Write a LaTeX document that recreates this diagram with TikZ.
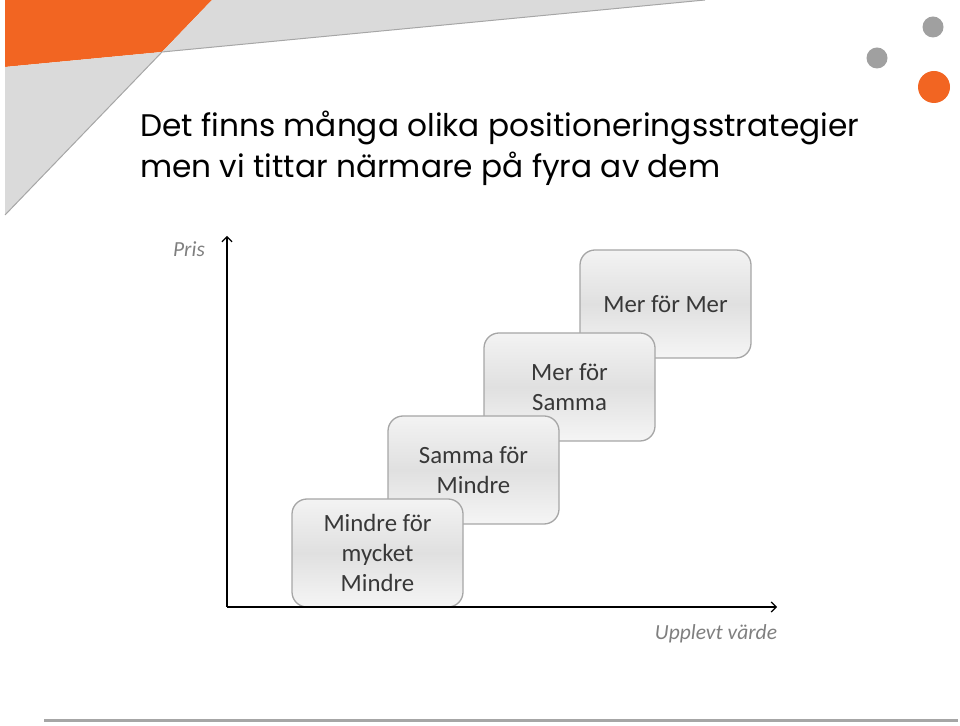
\documentclass[tikz,border=0pt]{standalone}
\usepackage{fontspec}
\setmainfont{Carlito}
\newfontfamily\titlefont{Poppins}
\usetikzlibrary{positioning, arrows.meta}
\definecolor{slideorange}{HTML}{F26522}
\definecolor{bandgray}{HTML}{DADADA}
\definecolor{linegray}{HTML}{A6A6A6}
\definecolor{dotgray}{HTML}{A0A0A0}
\definecolor{boxtop}{HTML}{F3F3F3}
\definecolor{boxmid}{HTML}{E0E0E0}
\definecolor{boxbottom}{HTML}{F5F5F5}
\definecolor{labelgray}{HTML}{7F7F7F}
\tikzset{
  stepbox/.style={draw=linegray, line width=1.3pt, rounded corners=15pt,
    top color=boxtop, bottom color=boxbottom, middle color=boxmid,
    minimum width=171pt, minimum height=108pt, align=center,
    text=black!78, font=\fontsize{24.8}{30}\selectfont},
  axislabel/.style={text=labelgray, font=\fontsize{21.5}{26}\selectfont\itshape},
  titleline/.style={anchor=base west, inner sep=0pt, font=\titlefont\fontsize{31.2}{41}\selectfont},
}
\begin{document}
\begin{tikzpicture}[x=1pt, y=1pt, >={Straight Barb[length=5pt,width=10pt]}]
        \useasboundingbox (0,0) rectangle (960,725);
        % Slide decoration
        \fill[slideorange] (5,725) -- (212,725) -- (162,673) -- (5,658) -- cycle;
        \fill[bandgray] (212,725) -- (705,725) -- (162,673) -- cycle;
        \fill[bandgray] (5,658) -- (162,673) -- (5,510) -- cycle;
        \draw[linegray, line width=1pt] (705,725) -- (162,673) -- (5,510);
        \fill[dotgray] (933,698) circle (10.5);
        \fill[dotgray] (877,667) circle (10.5);
        \fill[slideorange] (934,638) circle (16);
        \draw[linegray, line width=3pt] (44,4.5) -- (958,4.5);
        % Title
        \node[titleline] (titleA) at (140,588) {Det finns många olika positioneringsstrategier};
        \node[titleline] (titleB) at (140,547) {men vi tittar närmare på fyra av dem};
        % Nodes
        \node[stepbox] (merMer) at (665.5,421) {Mer för Mer};
        \node[stepbox, on grid, below left=83pt and 96pt of merMer] (merSamma) {Mer för\\Samma};
        \node[stepbox, on grid, below left=83pt and 96pt of merSamma] (sammaMindre) {Samma för\\Mindre};
        \node[stepbox, on grid, below left=83pt and 96pt of sammaMindre] (mindreMindre) {Mindre för\\mycket\\Mindre};
        % Axes
        \coordinate (origin) at (227,118);
        \coordinate (ytip) at (227,489);
        \coordinate (xtip) at (777,118);
        \draw[->, line width=1.2pt] (origin) -- (ytip);
        \draw[->, line width=1.2pt] (origin) -- (xtip);
        \node[axislabel] (pris) at (189,476) {Pris};
        \node[axislabel] (varde) at (716,91) {Upplevt värde};
    \end{tikzpicture}
\end{document}
